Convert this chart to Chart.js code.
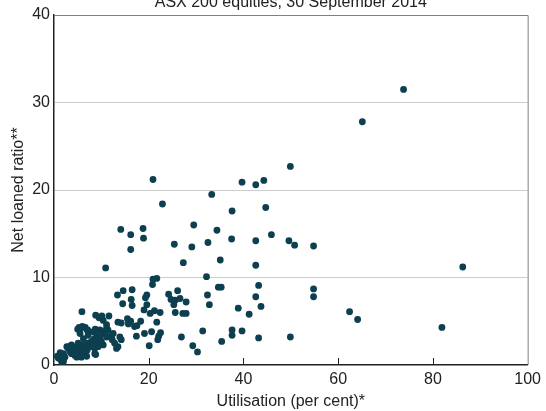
<!DOCTYPE html>
<html>
<head>
<meta charset="utf-8">
<script src="https://cdn.jsdelivr.net/npm/chart.js@4"></script>
<style>
  html, body { margin: 0; padding: 0; background: #fff; }
  #wrap { width: 546px; height: 411px; }
</style>
</head>
<body>
<div id="wrap"><canvas id="chart"></canvas></div>
<script>
// Utilisation (per cent) and net loaned ratio, one pair per stock
const utilisation = [
    73.8, 65.1, 49.9, 20.9, 39.7, 42.6, 44.3, 33.3, 22.9, 37.6, 44.7, 29.5, 34.4, 37.5, 42.6,
    45.9, 49.6, 50.8, 54.8, 25.4, 29.1, 32.5, 27.3, 35.1, 42.6, 86.3, 14.1, 16.2, 18.8, 18.9,
    16.2, 10.9, 20.9, 21.7, 20.8, 32.2, 34.7, 35.3, 43.2, 54.8, 54.8, 24.2, 26.1, 24.7, 25.6,
    26.6, 27.9, 32.4, 42.6, 25.3, 32.8, 43.7, 38.9, 41.2, 62.4, 64.1, 81.9, 25.6, 27.2, 27.9,
    21.2, 22.4, 20.3, 21.7, 20.6, 22.5, 22.1, 21.9, 31.4, 37.6, 37.6, 39.7, 26.9, 29.3, 30.3,
    35.4, 43.2, 49.9, 20.1, 13.4, 14.6, 16.5, 16.3, 16.5, 14.5, 19.6, 19.3, 19.6, 19.0, 13.5,
    14.2, 15.5, 15.8, 16.2, 15.7, 17.5, 18.3, 13.9, 14.2, 12.8, 13.2, 17.4, 19.1, 5.9, 8.8,
    9.5, 10.4, 10.1, 11.6, 5.3, 5.7, 5.0, 6.6, 7.1, 8.7, 9.7, 11.1, 11.4, 12.1, 12.3,
    11.1, 12.5, 6.0, 5.5, 7.0, 6.2, 7.2, 8.3, 9.0, 8.5, 7.9, 9.0, 9.7, 10.2, 10.9,
    11.1, 10.0, 9.3, 8.6, 7.2, 6.5, 8.8, 4.8, 3.7, 5.8, 6.9, 2.3, 1.3, 2.0, 0.9,
    1.6, 0.7, 2.0, 1.5, 3.0, 3.4, 2.7, 3.7, 4.2, 4.8, 5.1, 5.5, 5.8, 4.4, 5.1,
    6.2, 6.5, 7.0, 7.6, 1.3, 1.1, 3.1, 5.8, 6.9, 8.3, 9.3, 10.4, 6.2, 8.6, 17.0,
    13.5
];
const netLoanedRatio = [
    31.5, 27.8, 22.7, 21.2, 20.9, 20.6, 21.1, 19.5, 18.4, 17.6, 18.0, 16.0, 15.4, 14.4, 14.2,
    14.9, 14.2, 13.7, 13.6, 13.8, 13.5, 14.0, 11.7, 12.0, 11.4, 11.2, 15.5, 14.9, 15.6, 14.5,
    13.2, 11.1, 9.8, 9.9, 9.2, 10.1, 8.9, 8.9, 9.1, 8.7, 7.8, 8.1, 8.5, 7.5, 7.4,
    7.6, 7.2, 8.0, 7.8, 6.9, 6.9, 6.7, 6.5, 5.8, 6.1, 5.2, 4.3, 6.0, 5.9, 5.9,
    6.2, 6.0, 5.9, 4.9, 3.8, 3.7, 3.3, 2.9, 3.9, 4.0, 3.4, 3.9, 3.2, 2.2, 1.5,
    2.7, 3.1, 3.2, 2.2, 8.0, 8.5, 8.6, 7.5, 6.8, 7.0, 8.0, 7.7, 6.9, 6.3, 4.9,
    4.8, 5.3, 4.9, 5.0, 4.7, 4.5, 5.0, 3.2, 2.9, 2.5, 1.9, 3.3, 3.6, 6.1, 5.7,
    5.4, 5.1, 5.6, 5.6, 4.3, 4.2, 4.1, 4.3, 4.0, 4.1, 4.0, 4.2, 4.0, 3.3, 2.9,
    4.6, 3.6, 4.4, 3.6, 4.0, 3.0, 3.4, 3.8, 3.6, 3.0, 2.7, 2.7, 3.2, 3.6, 3.8,
    3.2, 2.7, 2.3, 1.9, 2.5, 2.1, 1.2, 0.9, 1.3, 0.9, 1.0, 0.9, 0.95, 0.4, 0.8,
    0.4, 1.0, 1.3, 0.6, 1.9, 1.5, 2.1, 2.3, 1.7, 2.1, 2.5, 1.5, 1.9, 1.1, 1.1,
    1.3, 1.1, 1.7, 2.1, 1.4, 0.8, 2.1, 2.3, 2.3, 2.3, 2.1, 2.3, 1.9, 1.3, 4.4,
    2.1
];
const xTicks = [0, 20, 40, 60, 80, 100];
const yTicks = [0, 10, 20, 30, 40];
const chartTitle = "ASX 200 equities, 30 September 2014";

const points = utilisation.map((u, i) => ({ x: u, y: netLoanedRatio[i] }));

// Title sits half cut off above the frame, plus grey top/right frame and inward x ticks
const framePlugin = {
    id: "frame",
    afterDraw(chart) {
        const { ctx, chartArea: a, scales } = chart;
        ctx.save();
        ctx.strokeStyle = "#808080";
        ctx.lineWidth = 1;
        ctx.beginPath();
        ctx.moveTo(a.left, a.top + 0.5);
        ctx.lineTo(a.right + 0.5, a.top + 0.5);
        ctx.lineTo(a.right + 0.5, a.bottom);
        ctx.stroke();

        ctx.strokeStyle = "#222";
        ctx.beginPath();
        xTicks.slice(1, -1).forEach((v) => {
            const px = Math.round(scales.x.getPixelForValue(v)) + 0.5;
            ctx.moveTo(px, a.bottom);
            ctx.lineTo(px, a.bottom - 7);
        });
        ctx.stroke();

        ctx.fillStyle = "#222";
        ctx.font = "16px 'Liberation Sans', Arial, sans-serif";
        ctx.textAlign = "center";
        ctx.textBaseline = "alphabetic";
        ctx.fillText(chartTitle, (a.left + a.right) / 2, 7);
        ctx.restore();
    },
};

const tickFont = { family: "'Liberation Sans', Arial, sans-serif", size: 16 };

new Chart(document.getElementById("chart"), {
    type: "scatter",
    data: {
        datasets: [
            {
                data: points,
                backgroundColor: "#0c3f4f",
                borderWidth: 0,
                pointRadius: 3.4,
            },
        ],
    },
    options: {
        responsive: true,
        maintainAspectRatio: false,
        animation: false,
        layout: { padding: { top: 15, right: 16, left: 0, bottom: 0 } },
        plugins: {
            legend: { display: false },
            tooltip: { enabled: false },
        },
        scales: {
            x: {
                type: "linear",
                min: 0,
                max: 100,
                afterBuildTicks: (s) => { s.ticks = xTicks.map((v) => ({ value: v })); },
                afterFit: (s) => { s.height = 46; },
                ticks: { color: "#222", font: tickFont, padding: 5, maxRotation: 0 },
                grid: { display: false, drawTicks: false },
                border: { display: true, color: "#222", width: 1.5 },
                title: {
                    display: true,
                    text: "Utilisation (per cent)*",
                    color: "#222",
                    font: tickFont,
                    padding: { top: 0, bottom: 0 },
                },
            },
            y: {
                type: "linear",
                min: 0,
                max: 40,
                afterBuildTicks: (s) => { s.ticks = yTicks.map((v) => ({ value: v })); },
                afterFit: (s) => { s.width = 54; },
                ticks: { color: "#222", font: tickFont, padding: 4 },
                grid: {
                    drawTicks: false,
                    color: (c) => (c.tick && (c.tick.value === 0 || c.tick.value === 40) ? "rgba(0,0,0,0)" : "#cccccc"),
                    lineWidth: 1,
                },
                border: { display: true, color: "#222", width: 1.5 },
                title: {
                    display: true,
                    text: "Net loaned ratio**",
                    color: "#222",
                    font: tickFont,
                    padding: { top: 9, bottom: 0 },
                },
            },
        },
    },
    plugins: [framePlugin],
});
</script>
</body>
</html>
